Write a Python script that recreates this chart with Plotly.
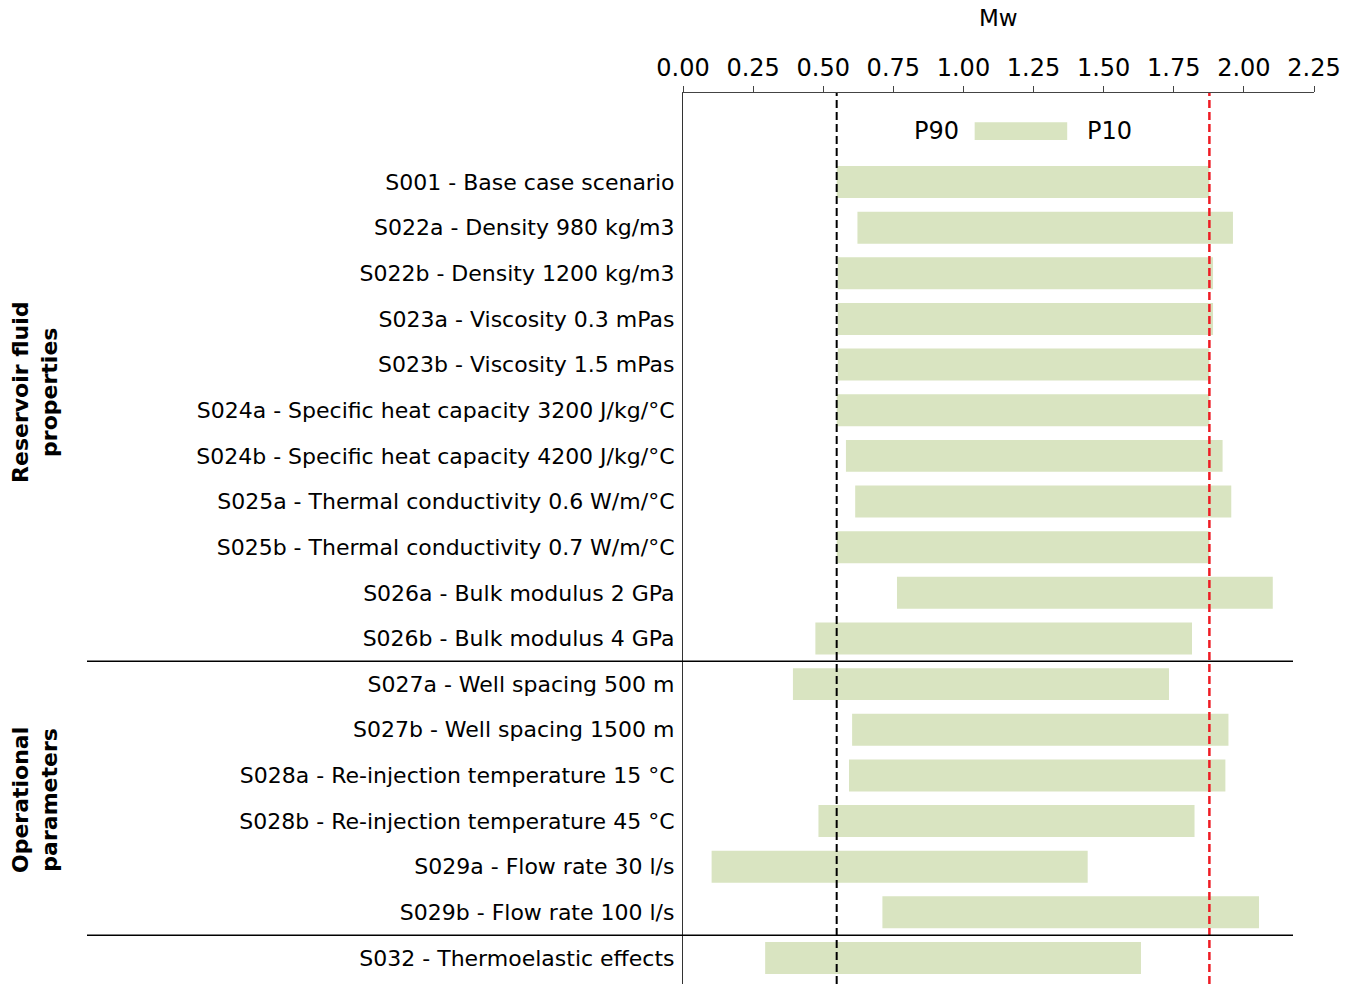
import plotly.graph_objects as go

scenarios = [
    "S001 - Base case scenario",
    "S022a - Density 980 kg/m3",
    "S022b - Density 1200 kg/m3",
    "S023a - Viscosity 0.3 mPas",
    "S023b - Viscosity 1.5 mPas",
    "S024a - Specific heat capacity 3200 J/kg/°C",
    "S024b - Specific heat capacity 4200 J/kg/°C",
    "S025a - Thermal conductivity 0.6 W/m/°C",
    "S025b - Thermal conductivity 0.7 W/m/°C",
    "S026a - Bulk modulus 2 GPa",
    "S026b - Bulk modulus 4 GPa",
    "S027a - Well spacing 500 m",
    "S027b - Well spacing 1500 m",
    "S028a - Re-injection temperature 15 °C",
    "S028b - Re-injection temperature 45 °C",
    "S029a - Flow rate 30 l/s",
    "S029b - Flow rate 100 l/s",
    "S032 - Thermoelastic effects",
]
p90 = [0.548, 0.622, 0.552, 0.552, 0.552, 0.548, 0.581, 0.614, 0.548, 0.763, 0.472,
       0.392, 0.603, 0.592, 0.483, 0.102, 0.711, 0.293]
p10 = [1.877, 1.961, 1.890, 1.890, 1.877, 1.877, 1.924, 1.955, 1.877, 2.103, 1.815,
       1.733, 1.945, 1.934, 1.824, 1.443, 2.054, 1.633]
base_p90 = 0.548
base_p10 = 1.877
x_ticks = [0.00, 0.25, 0.50, 0.75, 1.00, 1.25, 1.50, 1.75, 2.00, 2.25]
groups = [("Reservoir fluid<br>properties", 4.6), ("Operational<br>parameters", 13.54)]
separators = [10.5, 16.5]

W, H = 1358, 984
L, R, T, B = 683, 44, 93, 0
pw = W - L - R
ph = H - T - B
BAR = "#d9e4c1"
FONT = "DejaVu Sans"

idx = list(range(len(scenarios)))
fig = go.Figure()
fig.add_trace(go.Bar(
    y=idx, x=[b - a for a, b in zip(p90, p10)], base=p90, orientation="h",
    width=0.7, marker=dict(color=BAR, line=dict(width=0)), showlegend=False,
))

ytop, ybot = -1.95, 17.57
shapes = []
shapes.append(dict(type="line", xref="x", yref="paper", x0=base_p90, x1=base_p90, y0=0, y1=1,
                   line=dict(color="black", width=2, dash="8px,4px")))
shapes.append(dict(type="line", xref="x", yref="paper", x0=base_p10, x1=base_p10, y0=0, y1=1,
                   line=dict(color="#ee1c24", width=2.5, dash="8px,4px")))
for s in separators:
    shapes.append(dict(type="line", xref="paper", yref="y", x0=(87 - L) / pw, x1=(1293 - L) / pw,
                       y0=s, y1=s, line=dict(color="black", width=1.5)))
shapes.append(dict(type="rect", xref="x", yref="y", x0=1.04, x1=1.37, y0=-1.31, y1=-0.92,
                   fillcolor=BAR, line=dict(width=0)))

annotations = [
    dict(text="P90", xref="x", yref="y", x=0.99, y=-1.12, xanchor="right", yanchor="middle",
         showarrow=False, font=dict(family=FONT, size=24, color="black")),
    dict(text="P10", xref="x", yref="y", x=1.435, y=-1.12, xanchor="left", yanchor="middle",
         showarrow=False, font=dict(family=FONT, size=24, color="black")),
    dict(text="Mw", xref="x", yref="paper", x=1.125, y=1 + (T - 18) / ph, xanchor="center",
         yanchor="middle", showarrow=False, font=dict(family=FONT, size=23, color="black")),
]
for text, yc in groups:
    annotations.append(dict(text="<b>" + text + "</b>", xref="paper", yref="y", x=(35 - L) / pw,
                            y=yc, xanchor="center", yanchor="middle", textangle=-90,
                            showarrow=False, font=dict(family=FONT, size=22, color="black")))

fig.update_layout(
    width=W, height=H, margin=dict(l=L, r=R, t=T, b=B, pad=0),
    plot_bgcolor="white", paper_bgcolor="white",
    shapes=shapes, annotations=annotations,
    xaxis=dict(side="top", range=[0, 2.25], tickvals=x_ticks,
               ticktext=[f"{v:.2f}" for v in x_ticks], showgrid=False, zeroline=False,
               showline=True, linecolor="#444", linewidth=1.2, ticks="outside", ticklen=6,
               tickcolor="#444", tickfont=dict(family=FONT, size=24, color="black")),
    yaxis=dict(range=[ybot, ytop], tickvals=idx, ticktext=scenarios, showgrid=False,
               zeroline=False, showline=True, linecolor="#333", linewidth=1.2, ticks="",
               ticklabelstandoff=3, tickfont=dict(family=FONT, size=22, color="black")),
    bargap=0.3,
)
fig.write_html("out.html")
